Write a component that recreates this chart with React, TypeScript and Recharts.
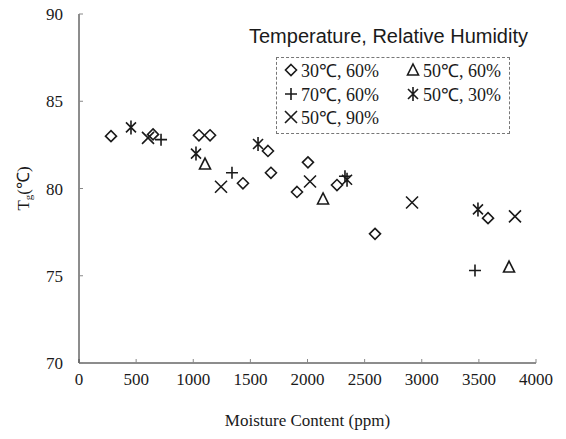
import { ScatterChart, Scatter, XAxis, YAxis, Legend } from "recharts";

// moisture content (ppm) and Tg (°C), one pair of arrays per condition
const MOISTURE_30_60 = [280, 648, 1050, 1147, 1654, 1680, 1435, 2004, 1908, 2258, 2591, 3580];
const TG_30_60 = [83.0, 83.1, 83.05, 83.05, 82.15, 80.9, 80.3, 81.5, 79.8, 80.2, 77.4, 78.3];

const MOISTURE_50_60 = [1103, 2136, 3764];
const TG_50_60 = [81.4, 79.4, 75.5];

const MOISTURE_70_60 = [718, 1339, 2328, 3466];
const TG_70_60 = [82.8, 80.9, 80.7, 75.3];

const MOISTURE_50_30 = [455, 1024, 1567, 2346, 3492];
const TG_50_30 = [83.5, 82.0, 82.55, 80.5, 78.8];

const MOISTURE_50_90 = [604, 1243, 2022, 2915, 3816];
const TG_50_90 = [82.9, 80.1, 80.4, 79.2, 78.4];

const X_TICKS = [0, 500, 1000, 1500, 2000, 2500, 3000, 3500, 4000];
const Y_TICKS = [70, 75, 80, 85, 90];

const LEGEND_TITLE = "Temperature, Relative Humidity";

type Marker = "diamond" | "triangle" | "plus" | "asterisk" | "cross";

const toPoints = (xs: number[], ys: number[]) => xs.map((x, i) => ({ x, y: ys[i] }));

const SERIES: { name: string; marker: Marker; data: { x: number; y: number }[] }[] = [
  { name: "30℃, 60%", marker: "diamond", data: toPoints(MOISTURE_30_60, TG_30_60) },
  { name: "50℃, 60%", marker: "triangle", data: toPoints(MOISTURE_50_60, TG_50_60) },
  { name: "70℃, 60%", marker: "plus", data: toPoints(MOISTURE_70_60, TG_70_60) },
  { name: "50℃, 30%", marker: "asterisk", data: toPoints(MOISTURE_50_30, TG_50_30) },
  { name: "50℃, 90%", marker: "cross", data: toPoints(MOISTURE_50_90, TG_50_90) },
];

const INK = "#1a1a1a";
const SERIF = '"Liberation Serif", "Times New Roman", serif';

function MarkerGlyph({ kind, cx, cy }: { kind: Marker; cx: number; cy: number }) {
  const s = { stroke: INK, strokeWidth: 1.6, fill: "none" };
  switch (kind) {
    case "diamond":
      return <path d={`M${cx},${cy - 5.5}L${cx + 5.5},${cy}L${cx},${cy + 5.5}L${cx - 5.5},${cy}Z`} {...s} />;
    case "triangle":
      return <path d={`M${cx},${cy - 6}L${cx + 5.5},${cy + 5}L${cx - 5.5},${cy + 5}Z`} {...s} />;
    case "plus":
      return <path d={`M${cx - 6},${cy}H${cx + 6}M${cx},${cy - 6}V${cy + 6}`} {...s} />;
    case "asterisk":
      return (
        <path
          d={`M${cx - 5},${cy - 5}L${cx + 5},${cy + 5}M${cx + 5},${cy - 5}L${cx - 5},${cy + 5}M${cx},${cy - 7}V${cy + 7}`}
          {...s}
        />
      );
    default:
      return <path d={`M${cx - 6},${cy - 6}L${cx + 6},${cy + 6}M${cx + 6},${cy - 6}L${cx - 6},${cy + 6}`} {...s} />;
  }
}

function YLabel({ viewBox }: any) {
  const x = viewBox.x + 25;
  const y = viewBox.y + viewBox.height / 2;
  return (
    <text x={x} y={y} transform={`rotate(-90, ${x}, ${y})`} textAnchor="middle" dominantBaseline="middle"
      fontFamily={SERIF} fontSize={17} fill={INK}>
      T<tspan dy={4} fontSize={11}>g</tspan><tspan dy={-4}>(℃)</tspan>
    </text>
  );
}

function LegendBox() {
  return (
    <div style={{ position: "relative", width: 300, height: 125 }}>
      <div style={{ position: "absolute", left: 0, top: 0, fontFamily: '"Liberation Sans", Arial, sans-serif',
        fontSize: 20, color: INK, whiteSpace: "nowrap" }}>
        {LEGEND_TITLE}
      </div>
      <div style={{ position: "absolute", left: 27, top: 32, width: 234, height: 77,
        border: "1px dashed #777", boxSizing: "border-box" }}>
        {SERIES.map((s, i) => (
          <div key={s.name} style={{ position: "absolute", left: 6 + (i % 2) * 122, top: 0 + Math.floor(i / 2) * 23.5,
            display: "flex", alignItems: "center", fontFamily: SERIF, fontSize: 18, color: INK, whiteSpace: "nowrap" }}>
            <svg width={16} height={16} style={{ marginRight: 2 }}>
              <MarkerGlyph kind={s.marker} cx={8} cy={8} />
            </svg>
            {s.name}
          </div>
        ))}
      </div>
    </div>
  );
}

export default function App() {
  const tick = { fontFamily: SERIF, fontSize: 17, fill: INK };
  return (
    <div style={{ position: "absolute", left: 0, top: 0, background: "#fff" }}>
      <ScatterChart width={566} height={439} margin={{ top: 14, right: 30, bottom: 0, left: 0 }}>
        <XAxis type="number" dataKey="x" domain={[0, 4000]} ticks={X_TICKS} interval={0}
          height={76} tick={tick} tickSize={-4} tickMargin={14}
          stroke={INK} axisLine={{ stroke: INK }} tickLine={{ stroke: "#888" }}
          label={{ value: "Moisture Content (ppm)", position: "insideBottom", offset: 13,
            style: { fontFamily: SERIF, fontSize: 17, fill: INK } }} />
        <XAxis xAxisId="top" orientation="top" type="number" domain={[0, 4000]} ticks={X_TICKS}
          height={0} tick={false} tickLine={false} axisLine={{ stroke: INK }} />
        <YAxis type="number" dataKey="y" domain={[70, 90]} ticks={Y_TICKS} interval={0}
          width={79} tick={tick} tickSize={-4} tickMargin={20}
          axisLine={{ stroke: INK }} tickLine={{ stroke: "#888" }} label={<YLabel />} />
        <YAxis yAxisId="right" orientation="right" type="number" domain={[70, 90]} ticks={Y_TICKS}
          width={0} tick={false} tickSize={-4} axisLine={{ stroke: INK }} tickLine={{ stroke: "#888" }} />
        <Legend layout="vertical" align="center" verticalAlign="middle"
          wrapperStyle={{ left: 249, top: 25, width: 300, height: 125 }} content={() => <LegendBox />} />
        {SERIES.map((s) => (
          <Scatter key={s.name} name={s.name} data={s.data} isAnimationActive={false}
            shape={(p: any) => <MarkerGlyph kind={s.marker} cx={p.cx} cy={p.cy} />} />
        ))}
      </ScatterChart>
    </div>
  );
}
